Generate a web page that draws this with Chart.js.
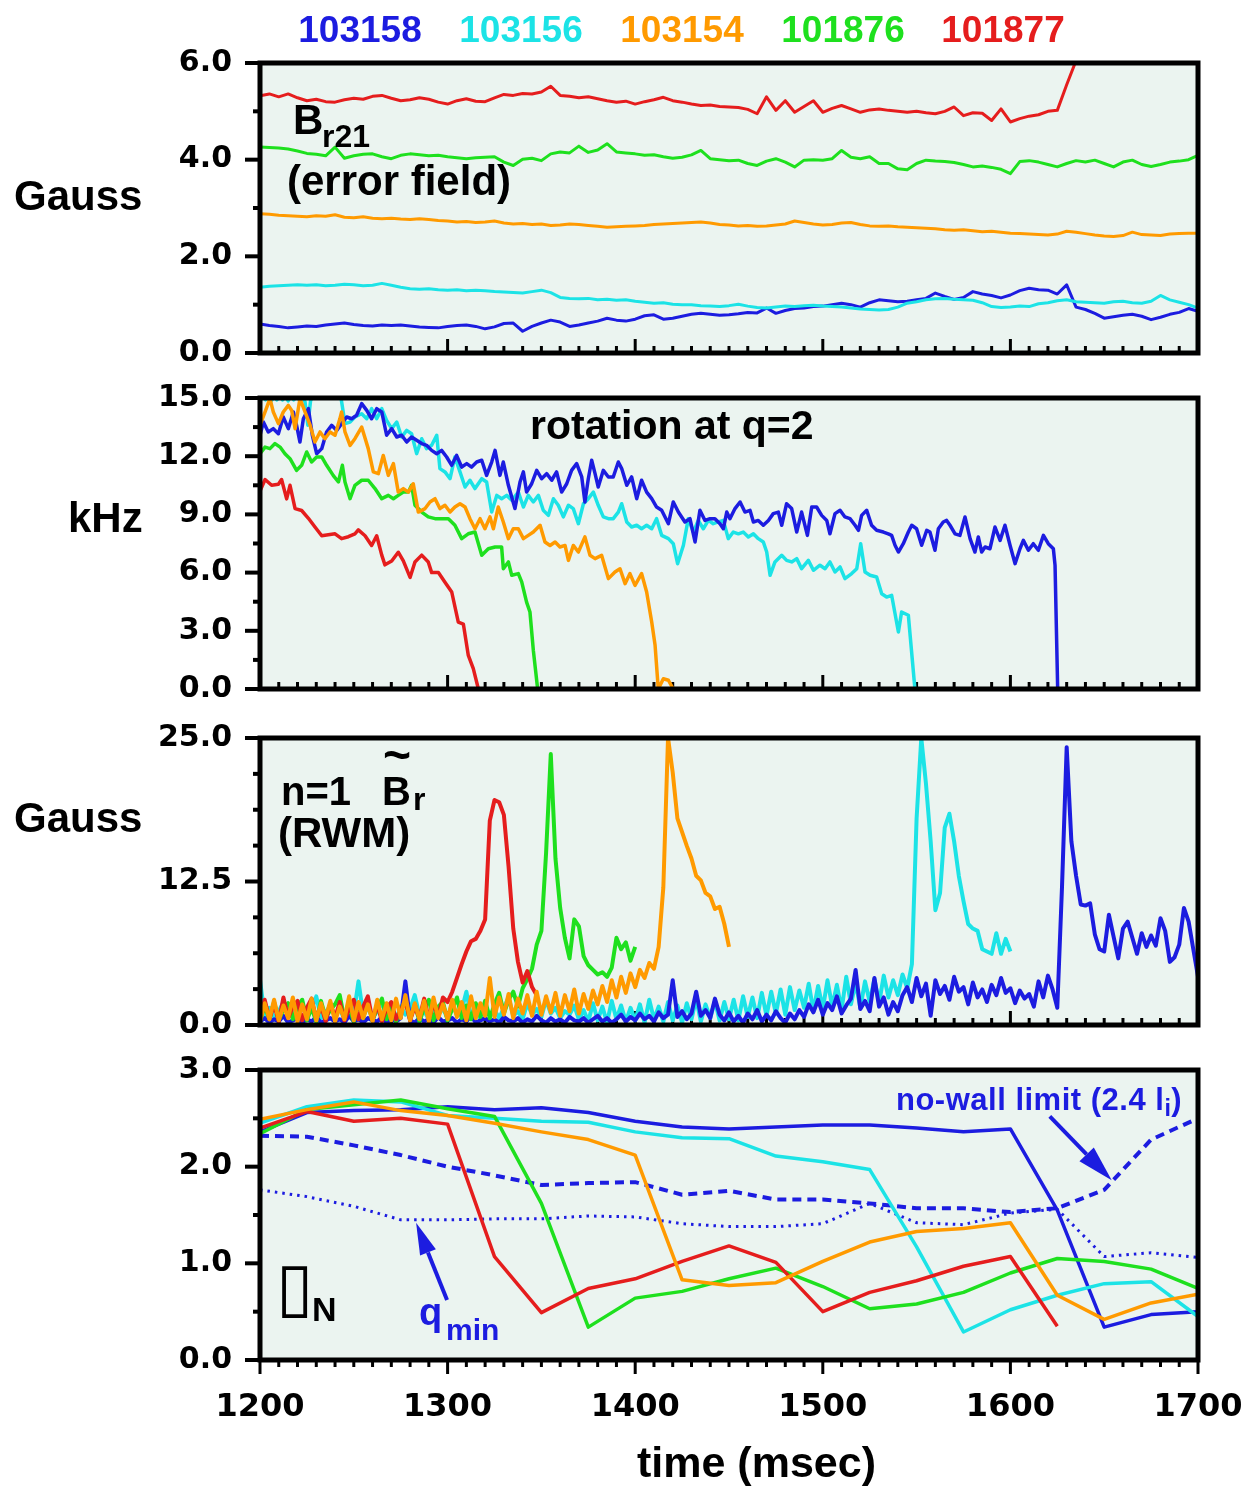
<!DOCTYPE html>
<html>
<head>
<meta charset="utf-8">
<title>RWM shots 1200-1700 ms</title>
<script src="https://cdn.jsdelivr.net/npm/chart.js@4.4.0/dist/chart.umd.min.js"></script>
<style>
  body { margin: 0; background: #fff; }
  #fig { position: relative; width: 1257px; height: 1488px; overflow: hidden; }
  #fig canvas { position: absolute; left: 0; }
  .lbl { position: absolute; font-family: 'Liberation Sans', Arial, Helvetica, sans-serif; font-weight: bold;
         line-height: 1; white-space: nowrap; color: #000; }
  .sub { font-size: 0.75em; vertical-align: -0.25em; }
</style>
</head>
<body>
<div id="fig">
  <canvas id="p1" width="1257" height="350" style="top:33px"></canvas>
  <canvas id="p2" width="1257" height="351" style="top:368px"></canvas>
  <canvas id="p3" width="1257" height="347" style="top:708px"></canvas>
  <canvas id="p4" width="1257" height="420" style="top:1040px"></canvas>

  <div class="lbl" style="left:14px;top:175px;font-size:42px">Gauss</div>
  <div class="lbl" style="left:68px;top:497px;font-size:42px">kHz</div>
  <div class="lbl" style="left:14px;top:797px;font-size:42px">Gauss</div>
  <div class="lbl" style="left:637px;top:1441px;font-size:43px">time (msec)</div>

  <div class="lbl" style="left:293px;top:99px;font-size:42px">B</div>
  <div class="lbl" style="left:322px;top:120px;font-size:32px">r21</div>
  <div class="lbl" style="left:287px;top:160px;font-size:42px">(error field)</div>

  <div class="lbl" style="left:530px;top:405px;font-size:41px">rotation at q=2</div>

  <div class="lbl" style="left:281px;top:771px;font-size:40px">n=1</div>
  <div class="lbl" style="left:382px;top:771px;font-size:40px">B</div>
  <div class="lbl" style="left:383px;top:731px;font-size:48px">~</div>
  <div class="lbl" style="left:413px;top:783px;font-size:32px">r</div>
  <div class="lbl" style="left:278px;top:812px;font-size:42px">(RWM)</div>

  <div class="lbl" id="nowall" style="left:896px;top:1084px;font-size:31px;letter-spacing:0.5px">no-wall limit (2.4 l<span class="sub">i</span>)</div>
  <div class="lbl" id="qmin1" style="left:419px;top:1293px;font-size:38px">q</div>
  <div class="lbl" id="qmin2" style="left:446px;top:1315px;font-size:30px">min</div>
  <div class="lbl" style="left:276px;top:1253px;font-size:68px;font-family:'DejaVu Sans';font-weight:normal">&#x25AF;</div>
  <div class="lbl" style="left:312px;top:1292px;font-size:34px">N</div>
</div>
<script>
// shot numbers and their colours (also the legend across the top)
const shots = ['103158', '103156', '103154', '101876', '101877'];
const shotColors = ['#1c1ce0', '#1ce3e6', '#ff9a00', '#1ee01e', '#e51d1d'];
const [BLUE, CYAN, ORANGE, GREEN, RED] = shotColors;
const PLOT_BG = '#ebf4f0';

// ---- panel 1: Br21 error field (Gauss), sampled every 5 ms from 1200 ms
const br21Start = 1200, br21Step = 5;
const br21Blue = [0.60,0.57,0.55,0.52,0.54,0.56,0.55,0.58,0.60,0.62,
  0.59,0.57,0.56,0.58,0.57,0.58,0.56,0.54,0.53,0.52,
  0.55,0.57,0.58,0.55,0.50,0.54,0.61,0.62,0.45,0.55,
  0.62,0.68,0.64,0.55,0.58,0.62,0.66,0.72,0.68,0.66,
  0.70,0.77,0.79,0.70,0.72,0.76,0.80,0.82,0.80,0.78,
  0.79,0.81,0.84,0.83,0.93,0.82,0.88,0.92,0.93,0.96,
  0.97,1.00,1.03,1.00,0.95,1.04,1.10,1.08,1.06,1.07,
  1.10,1.13,1.24,1.17,1.11,1.15,1.27,1.22,1.19,1.14,
  1.20,1.29,1.34,1.31,1.30,1.22,1.41,0.95,0.90,0.82,
  0.72,0.75,0.78,0.80,0.76,0.69,0.74,0.80,0.84,0.92,
  0.86];
const br21Cyan = [1.36,1.38,1.39,1.40,1.41,1.40,1.41,1.39,1.40,1.42,
  1.41,1.39,1.40,1.44,1.40,1.36,1.33,1.32,1.33,1.31,
  1.30,1.31,1.29,1.30,1.29,1.27,1.26,1.25,1.24,1.27,
  1.30,1.25,1.15,1.13,1.12,1.13,1.10,1.11,1.09,1.10,
  1.07,1.05,1.03,1.04,1.01,1.00,1.00,0.98,0.97,0.96,
  0.98,1.01,0.97,0.94,0.93,0.95,0.97,0.96,0.98,0.99,
  0.97,0.96,0.95,0.93,0.91,0.90,0.89,0.90,0.95,1.03,
  1.06,1.10,1.12,1.13,1.11,1.10,1.09,1.04,0.96,0.94,
  0.95,0.97,0.96,1.02,1.04,1.08,1.10,1.06,1.05,1.04,
  1.03,1.06,1.07,1.04,1.03,1.07,1.19,1.10,1.05,1.00,
  0.93];
const br21Orange = [2.88,2.87,2.85,2.84,2.83,2.82,2.84,2.83,2.86,2.81,
  2.80,2.82,2.79,2.78,2.79,2.77,2.76,2.78,2.76,2.74,
  2.73,2.71,2.72,2.70,2.71,2.73,2.69,2.67,2.68,2.66,
  2.67,2.64,2.65,2.67,2.66,2.64,2.62,2.60,2.61,2.62,
  2.63,2.64,2.66,2.67,2.68,2.69,2.70,2.71,2.69,2.66,
  2.65,2.63,2.64,2.62,2.63,2.65,2.67,2.73,2.70,2.67,
  2.65,2.66,2.69,2.70,2.66,2.63,2.62,2.63,2.61,2.60,
  2.59,2.58,2.57,2.55,2.54,2.55,2.53,2.51,2.52,2.50,
  2.48,2.47,2.46,2.45,2.44,2.46,2.52,2.50,2.47,2.44,
  2.42,2.41,2.43,2.50,2.45,2.44,2.43,2.46,2.47,2.48,
  2.48];
const br21Green = [4.26,4.25,4.24,4.22,4.18,4.13,4.11,4.08,4.26,4.03,
  4.08,4.11,4.12,4.06,4.02,4.09,4.12,4.10,4.08,4.09,
  4.06,4.04,4.02,4.04,4.05,4.06,3.95,3.88,4.01,4.03,
  3.98,4.12,4.16,4.14,4.28,4.15,4.20,4.33,4.16,4.14,
  4.12,4.09,4.10,4.06,4.03,4.05,4.10,4.19,4.02,4.00,
  3.98,3.99,3.92,3.88,3.97,4.02,3.95,3.85,3.99,4.00,
  3.99,4.02,4.19,4.05,4.02,4.06,3.92,3.92,3.81,3.79,
  3.92,3.99,3.97,3.96,3.94,3.90,3.85,3.87,3.84,3.80,
  3.71,3.96,3.98,3.95,3.90,3.85,3.92,3.98,3.95,3.99,
  3.92,3.85,3.95,3.99,3.90,3.86,3.90,3.95,3.97,4.00,
  4.09];
const br21Red = [5.32,5.36,5.30,5.36,5.28,5.22,5.25,5.20,5.19,5.24,
  5.27,5.25,5.31,5.33,5.27,5.22,5.24,5.28,5.25,5.19,
  5.15,5.22,5.26,5.21,5.20,5.28,5.35,5.33,5.37,5.36,
  5.40,5.52,5.33,5.31,5.28,5.30,5.26,5.22,5.19,5.21,
  5.15,5.20,5.24,5.29,5.22,5.19,5.15,5.12,5.13,5.10,
  5.09,5.08,5.04,4.95,5.30,5.02,5.22,4.98,5.10,5.22,
  4.98,5.06,5.12,5.05,4.98,5.03,5.05,5.02,5.00,4.98,
  5.00,4.97,4.95,5.00,5.09,4.91,4.97,4.96,4.81,5.05,
  4.78,4.85,4.90,4.93,5.00,5.02,5.55,6.05];

// ---- panel 2: rotation at q=2 (kHz), [time ms, kHz] read at the turning points
const rotBlue = [[1200,13.08],[1201.8,13.76],[1204.4,13.25],[1207.1,13.42],[1209.8,13.16],[1212.4,14.02],
  [1215.1,13.42],[1217.8,14.28],[1219.5,13.59],[1221.3,12.73],[1223.1,13.93],[1225.8,14.45],[1227.9,13.08],
  [1230.2,12.13],[1232.9,12.39],[1235.5,13.25],[1238.2,13.59],[1240.9,13.33],[1243.5,13.68],[1246.2,14.02],
  [1248.9,13.93],[1251.5,14.11],[1254.2,14.71],[1256.9,14.36],[1259.5,13.93],[1262.2,14.45],[1264.9,14.28],
  [1267.5,13.08],[1270.2,13.42],[1272.9,12.99],[1275.5,13.08],[1278.2,12.73],[1280.8,12.99],[1283.5,12.82],
  [1286.2,12.65],[1288.8,12.56],[1291.5,12.3],[1294.2,12.13],[1296.8,12.3],[1299.5,11.96],[1302.2,11.53],
  [1304.8,12.04],[1307.5,11.44],[1310.2,11.62],[1312.8,11.44],[1315.5,11.7],[1318.2,11.79],[1320.8,11.01],
  [1323.5,11.7],[1325.3,12.3],[1327.9,11.01],[1329.7,11.7],[1332.4,10.5],[1335.9,9.3],[1338.6,10.67],
  [1340.4,11.19],[1342.1,10.15],[1344.8,10.58],[1347.5,11.27],[1350.1,10.84],[1352.8,11.1],[1355.5,10.76],
  [1358.1,11.19],[1360.8,10.15],[1363.5,10.58],[1366.1,11.27],[1368.8,11.62],[1371.5,10.93],[1373.2,9.64],
  [1375,10.84],[1376.8,11.79],[1378.6,11.1],[1380.3,10.41],[1383,11.27],[1385.7,10.93],[1388.3,10.93],
  [1391,11.7],[1392.8,11.36],[1395.5,10.5],[1398.1,10.93],[1400.8,9.81],[1403.4,10.76],[1406.1,10.15],
  [1408.8,9.81],[1411.4,9.38],[1414.1,9.21],[1417.7,8.52],[1420.3,9.64],[1423,9.12],[1426.5,8.61],
  [1429.2,8.78],[1431.9,7.58],[1434.5,9.21],[1437.2,8.69],[1439.9,8.78],[1442.5,8.78],[1445.2,8.52],
  [1447,8.26],[1448.8,9.12],[1450.5,8.78],[1453.2,9.3],[1455.9,9.64],[1458.5,9.12],[1461.2,9.21],
  [1463,8.61],[1465.6,8.69],[1468.3,8.44],[1471,8.69],[1473.6,9.04],[1476.3,9.12],[1478.1,8.44],
  [1480.7,9.55],[1483.4,9.3],[1486.1,8.09],[1488.7,9.12],[1491.8,7.92],[1494.1,9.38],[1496.7,9.38],
  [1499.4,8.95],[1502.1,8.69],[1503.8,8.0],[1506.5,9.04],[1509.2,9.21],[1511.8,8.87],[1514.5,8.78],
  [1517.2,8.44],[1519,8.18],[1520.7,8.95],[1523.4,9.21],[1526,8.44],[1528.7,8.18],[1532.3,8.09],
  [1534.9,8.0],[1536.7,7.92],[1538.5,7.41],[1540.3,7.06],[1542.9,7.49],[1545.6,8.09],[1547.4,8.44],
  [1550,8.26],[1552.7,7.41],[1555.4,8.18],[1557.1,8.09],[1559.8,7.15],[1561.6,8.26],[1564.2,8.61],
  [1566,8.69],[1567.8,8.44],[1570.5,8.0],[1573.1,7.92],[1575.8,8.87],[1578.5,7.75],[1581.1,7.06],
  [1582.9,7.84],[1584.7,7.06],[1586.5,7.32],[1589.1,7.23],[1591.8,8.35],[1594.5,7.66],[1597.1,8.44],
  [1599.8,7.41],[1602.5,6.46],[1605.1,7.23],[1606.9,7.66],[1609.6,7.15],[1612.2,7.49],[1614.9,7.15],
  [1617.6,7.92],[1620.2,7.49],[1622.9,7.23],[1623.8,6.37],[1625.2,0]];
const rotCyan = [[1200,14.85],[1201.5,15.1],[1203,14.9],[1204.5,15.15],[1206,14.85],[1207.5,15.1],
  [1209,14.9],[1210.5,15.15],[1212,14.9],[1213.5,15.1],[1215,14.85],[1216.5,15.1],[1218,14.9],[1219.5,15.1],
  [1221,14.9],[1222.5,15.1],[1224,14.8],[1225.5,13.6],[1227,14.9],[1230,15.2],[1235,15.3],[1240,15.2],
  [1243.2,15.0],[1245.3,13.68],[1248,13.76],[1250.6,14.02],[1254.2,14.19],[1256.9,13.93],[1259.5,14.45],
  [1262.2,13.93],[1264.9,14.45],[1267.5,13.85],[1270.2,13.42],[1272.9,13.76],[1275.5,12.99],[1278.2,13.33],
  [1280.8,13.16],[1283.5,12.13],[1286.2,12.9],[1288.8,12.39],[1291.5,12.56],[1294.2,13.08],[1295.9,11.36],
  [1298.6,11.19],[1301.3,10.84],[1303.9,11.96],[1306.6,11.19],[1309.3,10.41],[1311.9,10.76],[1314.6,10.33],
  [1318.2,10.84],[1320.8,10.67],[1323.5,9.12],[1326.2,9.98],[1328.8,9.81],[1331.5,9.98],[1334.2,9.73],
  [1337.7,10.15],[1340.4,9.38],[1343,9.98],[1345.7,9.64],[1348.4,9.98],[1351,9.21],[1353.7,8.95],
  [1356.4,9.81],[1359,9.47],[1361.7,8.87],[1364.4,9.47],[1367,9.3],[1369.7,8.52],[1372.4,9.55],[1375,9.81],
  [1377.7,10.15],[1380.3,9.47],[1383,8.87],[1385.7,8.78],[1388.3,8.78],[1391,9.12],[1392.8,9.55],
  [1395.5,8.61],[1398.1,8.35],[1400.8,8.44],[1403.4,8.26],[1406.1,8.44],[1408.8,8.26],[1411.4,8.78],
  [1414.1,7.92],[1417.7,7.75],[1420.3,7.49],[1422.6,6.46],[1425.7,7.41],[1428.3,8.78],[1431,8.09],
  [1433.6,8.69],[1436.3,8.26],[1439,8.69],[1441.6,8.52],[1444.3,8.61],[1447,8.69],[1449.6,7.75],
  [1452.3,8.09],[1455,8.0],[1457.6,8.09],[1460.3,7.84],[1463,8.0],[1465.6,7.75],[1468.3,7.58],[1470.1,7.06],
  [1471.9,5.86],[1474.5,6.55],[1478.1,6.89],[1480.7,6.63],[1483.4,6.55],[1486.1,6.72],[1488.7,6.2],
  [1492.3,6.63],[1495,6.12],[1498.5,6.38],[1501.2,6.2],[1503.8,6.55],[1506.5,6.03],[1509.2,6.29],
  [1511.8,5.69],[1515.4,5.95],[1518.1,6.2],[1520.2,7.49],[1522.5,6.03],[1525.2,5.86],[1528.7,5.77],
  [1531.4,4.91],[1534,4.74],[1536.7,4.83],[1540.3,2.94],[1542,3.97],[1545.6,3.8],[1549.1,0]];
const rotOrange = [[1200,13.6],[1202.7,14.28],[1205.3,14.97],[1207.1,14.28],[1209.8,13.68],[1212.4,14.28],
  [1215.1,14.62],[1216.9,14.36],[1218.7,13.42],[1221.3,14.97],[1224,14.28],[1226.7,13.6],[1229.3,12.73],
  [1232,13.25],[1234.6,12.9],[1237.3,13.25],[1240,13.08],[1242.6,13.94],[1243.5,14.28],[1245.3,13.25],
  [1248,12.56],[1250.6,12.9],[1254.2,13.5],[1257.7,12.39],[1260.4,11.19],[1263.1,11.1],[1265.7,12.04],
  [1268.4,11.01],[1271.1,11.62],[1273.7,10.15],[1276.4,10.33],[1279.1,10.15],[1281.7,10.58],[1284.4,9.12],
  [1288,9.3],[1290.6,9.64],[1293.3,9.81],[1295.9,9.3],[1298.6,9.47],[1301.3,9.12],[1303.9,9.38],
  [1306.6,9.55],[1309.3,9.38],[1311.9,8.78],[1314.6,8.26],[1317.3,8.78],[1319.9,8.26],[1322.6,8.87],
  [1324.4,8.26],[1327,9.38],[1329.7,8.61],[1332.4,7.75],[1335,8.26],[1337.7,8.26],[1340.4,7.75],
  [1343,7.92],[1345.7,8.09],[1349.3,8.44],[1351.9,7.58],[1354.6,7.4],[1357.3,7.58],[1359.9,7.32],
  [1362.6,7.4],[1364.4,6.63],[1367,7.4],[1369.7,7.06],[1373.2,7.84],[1375.9,6.89],[1378.6,6.72],
  [1382.1,6.89],[1385.7,5.69],[1389.2,6.03],[1391.9,6.2],[1394.6,5.43],[1397.2,5.95],[1399.9,5.34],
  [1403.4,5.95],[1406.1,5.0],[1408.8,3.45],[1410.6,2.25],[1412.3,0],[1415,0.53],[1417.7,0.45],[1420.3,0]];
const rotGreen = [[1200,12.13],[1202.7,12.47],[1205.3,12.39],[1208,12.65],[1210.7,12.47],[1213.3,12.13],
  [1216,11.87],[1219.5,11.27],[1222.2,11.53],[1224.9,12.22],[1227.5,11.7],[1230.2,11.96],[1232.9,11.96],
  [1235.5,11.53],[1239.1,11.0],[1241.8,10.67],[1243.9,11.53],[1245.3,10.67],[1248,9.81],[1250.6,10.5],
  [1254.2,10.76],[1257.7,10.76],[1261.3,10.33],[1264.9,9.81],[1268.4,9.98],[1271.1,9.81],[1273.7,9.98],
  [1276.4,10.15],[1279.1,10.15],[1280.8,10.5],[1282.6,9.47],[1286.2,9.12],[1289.7,8.87],[1293.3,8.78],
  [1296.8,8.78],[1300.4,8.78],[1303.9,8.44],[1307.5,7.75],[1311,8.0],[1314.6,8.09],[1318.2,6.89],
  [1321.7,7.23],[1325.3,7.32],[1328.8,7.32],[1329.7,6.2],[1332.4,6.55],[1334.2,5.86],[1337.7,5.95],
  [1339.5,5.52],[1342.1,4.48],[1343.9,3.97],[1345.7,1.99],[1348,0]];
const rotRed = [[1200,10.2],[1202.7,10.8],[1206.2,10.5],[1209.8,10.55],[1211.5,10.8],[1214.2,9.8],
  [1216,10.5],[1218.7,9.3],[1222.2,9.2],[1225.8,8.8],[1229.3,8.35],[1232.9,7.9],[1236.4,7.95],[1240,8.0],
  [1243.5,7.75],[1247.1,7.85],[1250.6,8.0],[1252.4,8.2],[1256,7.9],[1259.5,7.4],[1262.2,7.9],[1264.9,6.9],
  [1266.6,6.4],[1270.2,6.6],[1273.7,7.05],[1276.4,6.6],[1280,5.75],[1282.6,6.55],[1286.2,6.9],
  [1289.7,6.55],[1291.5,6.0],[1295.1,6.0],[1298.6,5.5],[1302.2,5.0],[1305.7,3.45],[1308.4,3.35],
  [1311,1.75],[1313.7,1.05],[1316.4,0]];

// ---- panel 3: n=1 RWM amplitude (Gauss), sampled every 2.5 ms from 1200 ms
const rwmStart = 1200, rwmStep = 2.5;
const rwmBlue = [0.3,0.6,0.2,0.5,0.3,0.8,0.2,0.4,0.6,0.2,
  0.5,0.3,0.7,0.2,0.4,0.6,0.3,0.5,0.2,0.8,
  0.3,0.5,0.2,0.6,0.4,0.3,0.7,0.2,0.5,0.3,
  0.6,3.8,0.4,0.2,0.6,0.3,0.5,0.2,0.7,0.3,
  0.4,0.6,0.2,0.5,0.3,0.8,0.2,0.4,0.6,0.3,
  0.5,0.2,0.7,0.4,0.3,0.6,0.2,0.5,0.3,0.8,
  0.4,0.2,0.6,0.3,0.5,0.2,0.7,0.4,0.3,0.6,
  0.2,0.5,0.8,0.3,0.6,0.2,0.5,0.9,0.3,0.7,
  0.4,1.0,0.5,0.8,0.3,1.1,0.6,0.9,3.9,0.7,
  1.2,0.5,1.0,2.9,0.8,1.3,0.6,2.3,0.9,0.4,
  1.1,0.3,0.8,0.2,1.0,0.5,1.3,0.3,0.9,0.4,
  1.2,0.6,0.2,1.0,0.5,1.3,0.7,1.8,1.1,2.2,
  0.9,1.9,1.3,2.5,1.0,1.7,2.3,4.8,1.4,2.1,
  1.2,4.1,1.6,2.4,0.9,2.0,1.2,2.6,3.3,2.0,
  4.1,2.5,3.6,0.8,3.9,2.7,3.4,2.2,4.2,2.9,
  3.3,1.8,3.7,2.4,3.1,2.0,3.5,2.6,4.1,2.8,
  3.2,1.9,3.0,2.3,2.7,1.6,3.8,2.4,4.3,3.1,
  1.5,12.0,24.2,16.0,13.0,10.5,10.4,10.6,7.9,6.6,
  6.4,9.6,7.7,5.8,8.4,9.0,7.6,6.2,8.0,6.8,
  7.8,6.9,9.3,8.2,5.5,5.9,7.0,10.2,9.0,6.6,
  4.2];
const rwmCyan = [3.9,0.8,1.5,0.6,1.2,2.0,0.7,1.4,0.5,1.8,
  0.9,1.3,2.5,0.6,1.1,1.7,0.8,1.4,0.5,2.2,
  1.0,3.8,0.9,1.5,0.6,1.2,2.0,0.7,1.3,0.5,
  1.6,0.9,1.4,2.6,0.8,1.2,0.5,1.7,1.0,1.4,
  0.6,1.9,0.8,1.3,2.9,0.7,1.1,0.5,1.6,0.9,
  1.3,0.6,1.5,2.4,0.8,1.2,0.5,1.9,0.9,1.4,
  0.7,2.2,1.0,1.5,0.6,1.2,0.9,1.7,0.5,1.3,
  0.3,1.9,0.4,1.6,0.2,2.1,0.5,1.7,0.3,1.5,
  0.4,1.8,0.2,2.2,0.5,1.6,0.3,2.0,0.4,1.7,
  0.2,1.9,0.5,2.3,0.3,1.8,0.6,2.1,0.4,2.0,
  0.5,2.2,0.4,2.5,0.7,2.4,0.6,2.8,0.8,2.9,
  1.0,3.1,0.9,3.3,1.3,3.0,1.5,3.6,1.2,3.4,
  1.4,3.9,1.6,3.5,1.3,4.2,1.8,3.7,1.5,3.8,
  2.0,4.0,1.9,4.3,2.4,3.9,2.6,4.4,3.2,5.3,
  18.0,25.0,21.0,16.0,10.0,11.5,17.2,18.4,16.0,13.0,
  10.8,8.8,8.4,8.2,6.6,6.4,6.2,8.0,6.2,7.5,
  6.4];
const rwmOrange = [0.3,1.9,0.5,2.2,0.4,1.7,0.6,2.4,0.3,1.8,
  0.5,2.3,0.4,1.9,0.6,2.1,0.3,1.6,0.5,2.5,
  0.4,2.0,0.6,1.8,0.3,2.2,0.5,1.9,0.4,2.3,
  0.6,2.6,0.4,1.9,0.5,2.1,0.3,2.4,0.6,1.8,
  0.5,2.2,0.7,2.0,0.4,2.5,0.6,1.9,0.8,4.1,
  0.7,2.4,0.9,2.7,0.6,2.3,1.0,2.6,0.8,2.9,
  0.9,2.5,1.1,2.8,0.8,2.6,1.2,3.1,1.0,2.7,
  1.4,3.0,1.8,3.4,2.0,3.9,2.4,4.2,2.8,4.5,
  3.3,4.8,4.1,5.4,4.9,6.8,12.0,25.0,22.0,18.0,
  16.8,15.6,14.5,13.0,12.6,11.5,11.2,10.1,10.3,8.8,
  6.8];
const rwmGreen = [0.3,1.7,0.5,2.0,0.4,1.4,1.9,0.5,1.6,2.2,
  0.4,1.5,0.3,2.1,0.6,1.3,1.8,2.6,0.5,1.6,
  0.3,1.9,0.6,2.0,0.4,1.5,2.3,0.5,1.7,0.3,
  1.4,2.1,0.5,1.8,0.3,1.5,2.2,0.4,1.6,2.0,
  0.4,1.4,2.4,0.6,1.7,0.5,1.9,0.7,2.1,0.6,
  1.8,2.8,1.0,2.2,2.9,1.6,3.2,4.0,4.9,7.0,
  8.2,15.0,23.6,14.5,10.2,7.6,5.8,9.2,8.6,6.0,
  5.2,4.8,4.4,4.6,4.2,5.0,7.6,6.6,7.2,5.6,
  6.8];
const rwmRed = [0.4,2.2,0.5,1.8,0.3,2.4,0.6,1.6,2.1,0.4,
  1.5,2.3,0.5,1.7,0.3,1.9,0.6,2.0,0.4,1.4,
  2.2,0.5,1.6,2.5,0.4,1.8,0.3,1.5,2.0,0.5,
  1.3,2.1,0.4,1.6,0.6,2.3,0.5,1.9,0.7,2.4,
  2.0,2.9,4.1,5.3,6.4,7.3,7.5,8.2,9.2,17.8,
  19.6,19.4,18.3,13.8,8.4,5.5,3.7,4.7,3.3,2.6];

// ---- panel 4: beta_N every 25 ms from 1200 ms, plus no-wall limit (2.4 li) and q_min
const betaStart = 1200, betaStep = 25;
const betaBlue   = [2.36,2.56,2.58,2.59,2.62,2.59,2.61,2.56,2.47,2.41,2.39,2.41,2.43,2.43,2.40,2.36,2.39,1.55,0.34,0.47,0.50];
const betaCyan   = [2.45,2.62,2.69,2.67,2.53,2.50,2.47,2.46,2.36,2.30,2.29,2.11,2.05,1.97,1.17,0.29,0.52,0.67,0.79,0.81,0.45];
const betaOrange = [2.49,2.59,2.67,2.58,2.53,2.45,2.36,2.28,2.12,0.83,0.77,0.80,1.02,1.22,1.33,1.36,1.42,0.67,0.42,0.59,0.68];
const betaGreen  = [2.34,2.59,2.64,2.69,2.60,2.52,1.62,0.34,0.64,0.71,0.84,0.95,0.76,0.53,0.58,0.70,0.90,1.05,1.02,0.94,0.74];
const betaRed    = [2.40,2.57,2.47,2.50,2.44,1.07,0.49,0.74,0.84,1.02,1.18,1.01,0.50,0.70,0.82,0.97,1.07,0.35];
const noWallLimit = [2.32,2.31,2.22,2.12,2.00,1.91,1.81,1.83,1.84,1.71,1.75,1.66,1.66,1.62,1.57,1.57,1.53,1.57,1.76,2.28,2.50];
const qMin        = [1.76,1.69,1.59,1.45,1.45,1.46,1.46,1.49,1.48,1.41,1.38,1.38,1.41,1.62,1.42,1.40,1.52,1.56,1.07,1.11,1.06];

// pointer arrows for the labels in panel 4, in data units [ms, value]
const betaArrows = [
  { from: [1621, 2.52], to: [1654, 1.86], head: 36, width: 20 },
  { from: [1299.7, 0.62], to: [1283.2, 1.42], head: 32, width: 17 }
];

const TICK_FONT = { family: "'DejaVu Sans', sans-serif", size: 30, weight: 'bold' };
const X_FONT = { family: "'DejaVu Sans', sans-serif", size: 32, weight: 'bold' };

const grid = (start, step, values) => values.map((v, i) => ({ x: start + i * step, y: v }));
const pairs = list => list.map(([x, y]) => ({ x, y }));
const isMajor = (v, m) => Math.abs(v / m - Math.round(v / m)) < 1e-6;

function trace(points, color, width, dash) {
  return {
    data: points, borderColor: color, borderWidth: width, borderDash: dash || [],
    pointRadius: 0, fill: false, tension: 0, borderJoinStyle: 'round'
  };
}

// plot background, tick marks and the heavy frame round each panel
const framePlugin = {
  id: 'frame',
  beforeDraw(chart) {
    const { ctx, chartArea: a } = chart;
    ctx.save();
    ctx.fillStyle = PLOT_BG;
    ctx.fillRect(a.left, a.top, a.width, a.height);
    ctx.restore();
  },
  beforeDatasetsDraw(chart, args, opts) {
    const { ctx, chartArea: a, scales: { x, y } } = chart;
    ctx.save();
    ctx.strokeStyle = '#000';
    ctx.lineWidth = 4;
    y.ticks.forEach(t => {
      const py = y.getPixelForValue(t.value);
      const len = isMajor(t.value, opts.yMajor) ? 15 : 7;
      ctx.beginPath(); ctx.moveTo(a.left - len, py); ctx.lineTo(a.left, py); ctx.stroke();
    });
    ctx.lineWidth = 3;
    const dir = opts.ticksOut ? 1 : -1;
    x.ticks.forEach(t => {
      const px = x.getPixelForValue(t.value);
      const len = t.value % 100 === 0 ? 14 : 7;
      ctx.beginPath(); ctx.moveTo(px, a.bottom); ctx.lineTo(px, a.bottom + dir * len); ctx.stroke();
    });
    ctx.restore();
  },
  afterDatasetsDraw(chart) {
    const { ctx, chartArea: a } = chart;
    ctx.save();
    ctx.strokeStyle = '#000';
    ctx.lineWidth = 5;
    ctx.strokeRect(a.left, a.top, a.width, a.height);
    ctx.restore();
  }
};

const arrowPlugin = {
  id: 'arrows',
  afterDatasetsDraw(chart, args, opts) {
    const { ctx, scales: { x, y } } = chart;
    (opts.items || []).forEach(a => {
      const x0 = x.getPixelForValue(a.from[0]), y0 = y.getPixelForValue(a.from[1]);
      const x1 = x.getPixelForValue(a.to[0]), y1 = y.getPixelForValue(a.to[1]);
      const ang = Math.atan2(y1 - y0, x1 - x0);
      const hx = x1 - a.head * Math.cos(ang), hy = y1 - a.head * Math.sin(ang);
      const wx = Math.sin(ang) * a.width / 2, wy = Math.cos(ang) * a.width / 2;
      ctx.save();
      ctx.strokeStyle = ctx.fillStyle = BLUE;
      ctx.lineWidth = 4;
      ctx.beginPath(); ctx.moveTo(x0, y0); ctx.lineTo(hx, hy); ctx.stroke();
      ctx.beginPath();
      ctx.moveTo(x1, y1); ctx.lineTo(hx + wx, hy - wy); ctx.lineTo(hx - wx, hy + wy);
      ctx.closePath(); ctx.fill();
      ctx.restore();
    });
  }
};

function panel(id, datasets, y, opts = {}) {
  return new Chart(document.getElementById(id), {
    type: 'line',
    data: { datasets },
    options: {
      responsive: false,
      animation: false,
      events: [],
      layout: { padding: { top: 30, right: 59, left: 0, bottom: 0 } },
      plugins: {
        legend: { display: false },
        tooltip: { enabled: false },
        frame: { yMajor: y.major, ticksOut: !!opts.xLabels },
        arrows: { items: opts.arrows || [] }
      },
      scales: {
        x: {
          type: 'linear', min: 1200, max: 1700,
          grid: { display: false, drawTicks: false },
          border: { display: false },
          ticks: {
            stepSize: 10, autoSkip: false, maxRotation: 0, display: !!opts.xLabels,
            padding: 28, font: X_FONT, color: '#000',
            callback: v => (v % 100 === 0 ? String(v) : '')
          },
          // fixed plot area: drop the label overhang the scale asks for
          afterFit: s => { s.height = opts.xLabels ? 100 : 30; s.paddingLeft = 0; s.paddingRight = 0; }
        },
        y: {
          type: 'linear', min: 0, max: y.max,
          grid: { display: false, drawTicks: false },
          border: { display: false },
          ticks: {
            stepSize: y.step, autoSkip: false, padding: 28, font: TICK_FONT, color: '#000',
            callback: v => (isMajor(v, y.major) ? v.toFixed(1) : '')
          },
          afterFit: s => { s.width = 260; s.paddingTop = 0; s.paddingBottom = 0; }
        }
      }
    },
    plugins: [framePlugin, arrowPlugin]
  });
}

// legend of shot numbers along the top
shots.forEach((s, i) => {
  const d = document.createElement('div');
  d.className = 'lbl';
  d.textContent = s;
  d.style.cssText = `left:${[280, 441, 602, 763, 923][i]}px;top:11px;width:160px;text-align:center;font-size:37px;color:${shotColors[i]}`;
  document.getElementById('fig').appendChild(d);
});
['nowall', 'qmin1', 'qmin2'].forEach(id => { document.getElementById(id).style.color = BLUE; });

// datasets are listed top layer first
panel('p1', [
  trace(grid(br21Start, br21Step, br21Red), RED, 3),
  trace(grid(br21Start, br21Step, br21Green), GREEN, 3),
  trace(grid(br21Start, br21Step, br21Orange), ORANGE, 3),
  trace(grid(br21Start, br21Step, br21Cyan), CYAN, 3),
  trace(grid(br21Start, br21Step, br21Blue), BLUE, 3)
], { max: 6, step: 1, major: 2 });

panel('p2', [
  trace(pairs(rotOrange), ORANGE, 3.5),
  trace(pairs(rotGreen), GREEN, 3.5),
  trace(pairs(rotRed), RED, 3.5),
  trace(pairs(rotBlue), BLUE, 3.5),
  trace(pairs(rotCyan), CYAN, 3.5)
], { max: 15, step: 1.5, major: 3 });

panel('p3', [
  trace(grid(rwmStart, rwmStep, rwmOrange), ORANGE, 4),
  trace(grid(rwmStart, rwmStep, rwmRed), RED, 4),
  trace(grid(rwmStart, rwmStep, rwmGreen), GREEN, 4),
  trace(grid(rwmStart, rwmStep, rwmBlue), BLUE, 4),
  trace(grid(rwmStart, rwmStep, rwmCyan), CYAN, 4)
], { max: 25, step: 3.125, major: 12.5 });

panel('p4', [
  trace(grid(betaStart, betaStep, betaOrange), ORANGE, 3.5),
  trace(grid(betaStart, betaStep, betaRed), RED, 3.5),
  trace(grid(betaStart, betaStep, betaGreen), GREEN, 3.5),
  trace(grid(betaStart, betaStep, betaCyan), CYAN, 3.5),
  trace(grid(betaStart, betaStep, betaBlue), BLUE, 3.5),
  trace(grid(betaStart, betaStep, noWallLimit), BLUE, 4, [9, 6]),
  trace(grid(betaStart, betaStep, qMin), BLUE, 3, [2.5, 5])
], { max: 3, step: 0.5, major: 1 }, { xLabels: true, arrows: betaArrows });
</script>
</body>
</html>
